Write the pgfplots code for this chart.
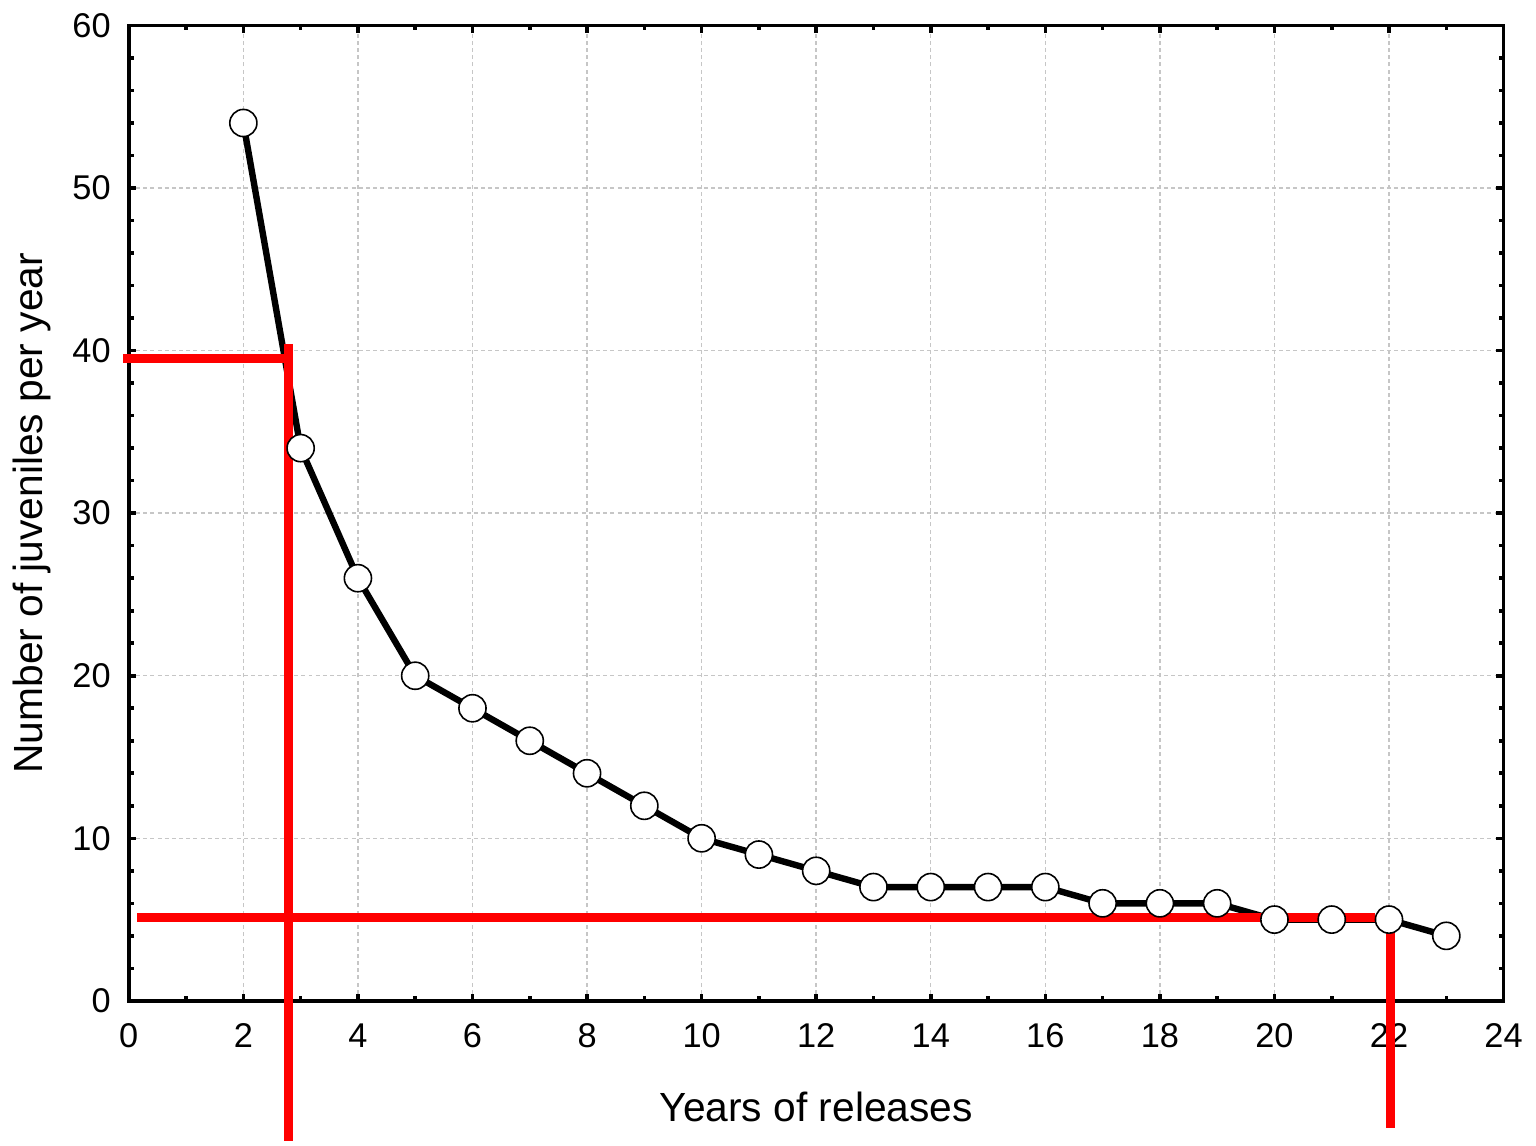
\documentclass[border=0pt]{standalone}
\usepackage{fontspec}
\setmainfont{Liberation Sans}
\usepackage{pgfplots}
\pgfplotsset{compat=1.18}
\begin{document}
\begin{tikzpicture}
\begin{axis}[
  name=ax,
  scale only axis,
  width=344.25pt, height=244.25pt,
  xmin=0, xmax=24, ymin=0, ymax=60,
  xtick={0,2,...,24}, ytick={0,10,...,60},
  minor x tick num=1, minor y tick num=4,
  tick align=inside,
  major tick length=1.8pt, minor tick length=1.2pt,
  tick style={black, line width=0.9pt},
  axis line style={line width=0.9pt},
  grid=major,
  major grid style={gray!45, line width=0.35pt, dash pattern=on 1pt off 0.8pt},
  clip=false,
  ticklabel style={font=\fontsize{8.6}{10}\selectfont},
  /pgf/number format/assume math mode=true,
  xticklabel style={yshift=-2.2pt},
  yticklabel style={xshift=-1pt},
  label style={font=\fontsize{10.2}{12}\selectfont},
  xlabel={Years of releases},
  ylabel={Number of juveniles per year},
  xlabel style={at={(axis description cs:0.5,-0.1238)}, anchor=base},
  ylabel style={at={(axis description cs:-0.0625,0.5)}, anchor=base},
]
% juveniles per year vs years of releases
\addplot[black, line width=1.6pt, mark=*, mark size=3.4pt,
  mark options={fill=white, draw=black, line width=0.4pt}] coordinates {
  (2,54) (3,34) (4,26) (5,20) (6,18) (7,16) (8,14) (9,12) (10,10)
  (11,9) (12,8) (13,7) (14,7) (15,7) (16,7) (17,6) (18,6) (19,6)
  (20,5) (21,5) (22,5) (23,4)
};
% red guide lines
\addplot[red, line width=2.2pt, line cap=butt, forget plot] coordinates {(-0.105,39.5) (2.86,39.5)};
\addplot[red, line width=2.2pt, line cap=butt, forget plot] coordinates {(2.79,40.41) (2.79,-8.598)};
\addplot[red, line width=2.2pt, line cap=butt, forget plot] coordinates {(0.15,5.12) (21.75,5.12)};
\addplot[red, line width=2.2pt, line cap=butt, forget plot] coordinates {(22.03,5.12) (22.03,-7.84)};
\end{axis}
\path (ax.south west) ++(-32.25pt,-35pt) rectangle ([xshift=7.5pt,yshift=5.5pt]ax.north east);
\end{tikzpicture}
\end{document}
